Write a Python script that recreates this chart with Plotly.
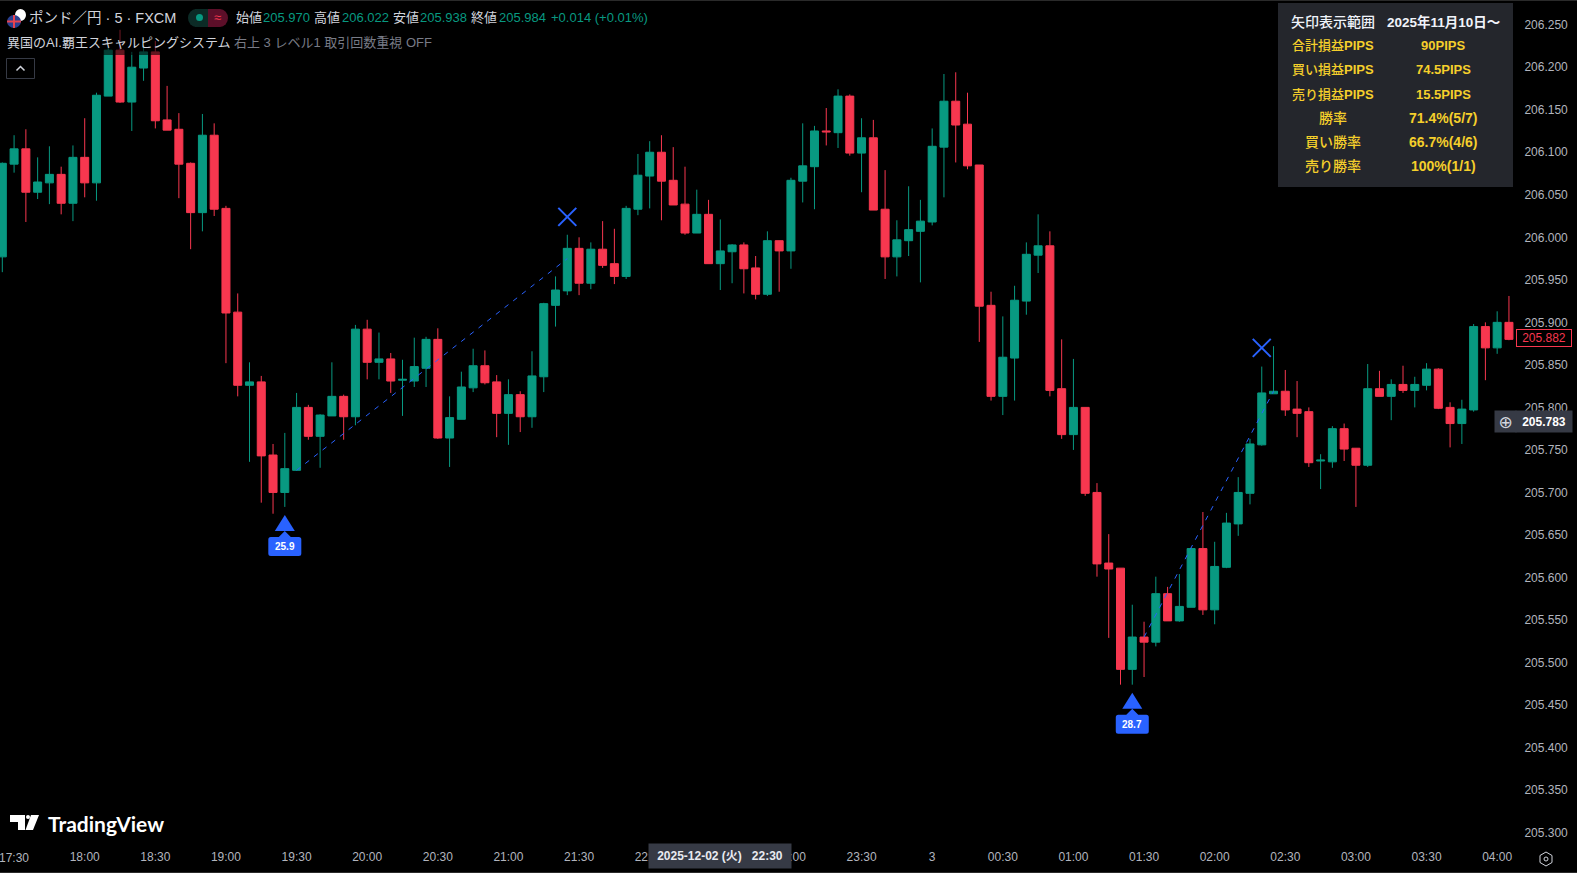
import pandas as pd
import plotly.graph_objects as go

WIDTH = 1577
HEIGHT = 873
PLOT_W = 1516
PLOT_H = 841

GREEN = "#089981"
RED = "#f7374f"
BLUE = "#2962ff"
AXIS_TEXT = "#b2b5be"
TABLE_TEXT = "#f5cf2b"
FONT = "Liberation Sans, Noto Sans CJK JP, sans-serif"

bar_times = pd.date_range("2025-12-02 17:25", periods=129, freq="5min")

opens = [205.977,206.086,206.104,206.053,206.064,206.074,206.040,206.094,206.064,206.166,
         206.220,206.159,206.199,206.218,206.138,206.127,206.087,206.029,206.120,206.034,
         205.912,205.826,205.830,205.744,205.700,205.726,205.800,205.766,205.790,205.813,
         205.789,205.892,205.853,205.857,205.832,205.831,205.846,205.880,205.764,205.786,
         205.823,205.849,205.830,205.793,205.815,205.789,205.836,205.920,205.937,205.987,
         205.946,205.986,205.969,205.954,206.033,206.072,206.100,206.067,206.039,206.005,
         206.027,205.969,205.983,205.991,205.964,205.933,205.996,205.984,206.066,206.083,
         206.125,206.123,206.166,206.099,206.117,206.033,205.977,205.996,206.007,206.018,
         206.106,206.160,206.133,206.085,205.920,205.813,205.858,205.925,205.979,205.990,
         205.822,205.768,205.800,205.700,205.617,205.611,205.492,205.530,205.524,205.581,
         205.549,205.565,205.634,205.562,205.612,205.663,205.699,205.756,205.816,205.819,
         205.798,205.795,205.737,205.736,205.775,205.752,205.732,205.822,205.813,205.827,
         205.820,205.826,205.845,205.800,205.781,205.797,205.895,205.870,205.900]
highs = [206.088,206.120,206.127,206.094,206.107,206.083,206.108,206.140,206.170,206.223,
         206.244,206.218,206.226,206.231,206.178,206.146,206.088,206.145,206.134,206.037,
         205.934,205.853,205.837,205.757,205.770,205.817,205.803,205.792,205.853,205.815,
         205.897,205.903,205.888,205.864,205.856,205.882,205.883,205.893,205.813,205.842,
         205.869,205.867,205.838,205.833,205.819,205.866,205.923,205.954,206.003,206.000,
         205.994,206.019,206.010,206.037,206.098,206.113,206.120,206.106,206.083,206.056,
         206.044,206.021,205.992,205.994,205.978,206.007,205.996,206.070,206.134,206.131,
         206.152,206.174,206.168,206.140,206.138,206.079,206.020,206.060,206.044,206.128,
         206.192,206.194,206.170,206.085,205.936,205.907,205.943,205.994,206.027,206.007,
         205.880,205.857,205.800,205.711,205.651,205.611,205.568,205.548,205.601,205.589,
         205.604,205.635,205.677,205.642,205.676,205.718,205.763,205.848,205.872,205.844,
         205.831,205.800,205.745,205.778,205.781,205.752,205.851,205.843,205.833,205.849,
         205.836,205.852,205.846,205.806,205.809,205.898,205.900,205.913,205.931]
lows = [205.959,206.076,206.018,206.045,206.039,206.027,206.019,206.047,206.043,206.166,
        206.158,206.125,206.184,206.128,206.126,206.046,205.986,206.007,206.025,205.852,
        205.813,205.736,205.688,205.675,205.683,205.726,205.762,205.729,205.790,205.762,
        205.779,205.833,205.833,205.817,205.790,205.824,205.824,205.763,205.730,205.786,
        205.818,205.827,205.765,205.756,205.771,205.776,205.818,205.895,205.932,205.932,
        205.939,205.964,205.945,205.951,206.026,206.034,206.020,206.038,206.003,206.005,
        205.969,205.938,205.946,205.934,205.927,205.931,205.936,205.963,206.041,206.033,
        206.108,206.105,206.096,206.053,206.032,205.951,205.954,205.978,205.947,206.014,
        206.047,206.088,206.080,205.877,205.808,205.791,205.808,205.909,205.958,205.813,
        205.763,205.750,205.696,205.601,205.529,205.474,205.474,205.483,205.519,205.549,
        205.548,205.565,205.556,205.545,205.611,205.649,205.686,205.755,205.816,205.790,
        205.765,205.730,205.704,205.729,205.737,205.683,205.730,205.813,205.785,205.817,
        205.800,205.820,205.798,205.753,205.757,205.795,205.832,205.863,205.879]
closes = [206.087,206.104,206.053,206.065,206.074,206.040,206.094,206.064,206.167,206.220,
          206.159,206.200,206.218,206.137,206.126,206.086,206.029,206.120,206.033,205.911,
          205.826,205.830,205.743,205.700,205.728,205.800,205.766,205.791,205.813,205.789,
          205.892,205.853,205.857,205.831,205.833,205.848,205.880,205.764,205.788,205.824,
          205.849,205.829,205.793,205.815,205.789,205.837,205.922,205.938,205.987,205.946,
          205.986,205.967,205.954,206.034,206.073,206.100,206.066,206.038,206.005,206.027,
          205.969,205.984,205.991,205.963,205.933,205.996,205.984,206.067,206.084,206.125,
          206.124,206.166,206.099,206.117,206.032,205.977,205.997,206.009,206.019,206.107,
          206.160,206.132,206.084,205.919,205.813,205.859,205.926,205.980,205.990,205.820,
          205.768,205.800,205.699,205.616,205.610,205.492,205.530,205.524,205.581,205.549,
          205.566,205.634,205.562,205.613,205.664,205.700,205.757,205.817,205.819,205.797,
          205.793,205.735,205.738,205.775,205.751,205.732,205.822,205.813,205.827,205.820,
          205.827,205.845,205.799,205.781,205.798,205.895,205.870,205.900,205.880]

# buy arrows, exit crosses and the dashed trade lines
buy_times = ["2025-12-02 19:25", "2025-12-03 01:25"]
buy_lows = [205.683, 205.474]
buy_labels = ["25.9", "28.7"]
exit_times = ["2025-12-02 21:25", "2025-12-03 02:20"]
exit_prices = [206.024, 205.870]
trade1_times = ["2025-12-02 19:30", "2025-12-02 21:25"]
trade1_prices = [205.726, 205.975]
trade2_times = ["2025-12-03 01:30", "2025-12-03 02:25"]
trade2_prices = [205.530, 205.819]

x_tick_times = pd.date_range("2025-12-02 18:00", "2025-12-03 04:00", freq="30min")
x_tick_text = ["18:00", "18:30", "19:00", "19:30", "20:00", "20:30", "21:00", "21:30",
               "22:00", "22:30", "23:00", "23:30", "3", "00:30", "01:00", "01:30", "02:00",
               "02:30", "03:00", "03:30", "04:00"]

table_labels = ["合計損益PIPS", "買い損益PIPS", "売り損益PIPS", "勝率", "買い勝率", "売り勝率"]
table_sizes = [13, 13, 13, 14, 14, 14]
table_values = ["90PIPS", "74.5PIPS", "15.5PIPS", "71.4%(5/7)", "66.7%(4/6)", "100%(1/1)"]
table_rows_y = [46, 70, 94, 118, 142, 166]


def px(x):
    return x / PLOT_W


def py(y):
    return 1 - y / PLOT_H


def path(points, close=True):
    d = "M" + " L".join(f"{px(x):.5f},{py(y):.5f}" for x, y in points)
    return d + (" Z" if close else "")


fig = go.Figure()

fig.add_trace(go.Scatter(x=trade1_times, y=trade1_prices, mode="lines",
                         line=dict(color=BLUE, width=1, dash="5px,6px"), hoverinfo="skip"))
fig.add_trace(go.Scatter(x=trade2_times, y=trade2_prices, mode="lines",
                         line=dict(color=BLUE, width=1, dash="5px,6px"), hoverinfo="skip"))
fig.add_trace(go.Candlestick(x=bar_times, open=opens, high=highs, low=lows, close=closes,
                             whiskerwidth=0,
                             increasing=dict(line=dict(color=GREEN, width=1), fillcolor=GREEN),
                             decreasing=dict(line=dict(color=RED, width=1), fillcolor=RED)))
fig.add_trace(go.Scatter(x=exit_times, y=exit_prices, mode="markers",
                         marker=dict(symbol="x-thin", size=18, line=dict(color=BLUE, width=2)),
                         hoverinfo="skip"))

shapes = []
annotations = []


def add_text(x, y, text, color="#d1d4dc", size=13, anchor="left", family=FONT, weight="normal"):
    if anchor == "left":
        x -= 1.5
    annotations.append(dict(xref="paper", yref="paper", x=px(x), y=py(y), text=text,
                            showarrow=False, xanchor=anchor, yanchor="middle", borderpad=0,
                            font=dict(color=color, size=size, family=family, weight=weight)))


def add_shape(kind, x0, y0, x1, y1, fill, line=None, width=0, opacity=1):
    shapes.append(dict(type=kind, xref="paper", yref="paper", x0=px(x0), x1=px(x1),
                       y0=py(y0), y1=py(y1), fillcolor=fill, opacity=opacity,
                       line=dict(color=line, width=width) if line else dict(width=0)))


def add_path(points, fill=None, line=None, width=1, close=True):
    shapes.append(dict(type="path", path=path(points, close), xref="paper", yref="paper",
                       fillcolor=fill, line=dict(color=line, width=width) if line else dict(width=0)))


# top/bottom hairlines
add_shape("rect", 0, 0, WIDTH, 1, "#2a2a2a")
add_shape("rect", 0, 872, WIDTH, 873, "#2a2a2a")

# legend dims what sits under it
add_shape("rect", 0, 28, 440, 50, "#000000", opacity=0.55)
add_shape("rect", 0, 50, 440, 55, "#000000", opacity=0.6)

# arrows hang below the bar low, sized in pixels
for t, low, label in zip(buy_times, buy_lows, buy_labels):
    shapes.append(dict(type="path", xref="x", yref="y", xsizemode="pixel", ysizemode="pixel",
                       xanchor=t, yanchor=low, fillcolor=BLUE, line=dict(width=0),
                       path="M -10,-24 L 0,-8 L 10,-24 Z"))
    shapes.append(dict(type="path", xref="x", yref="y", xsizemode="pixel", ysizemode="pixel",
                       xanchor=t, yanchor=low, fillcolor=BLUE, line=dict(width=0),
                       path="M -14,-30 L -6,-30 L 0,-24 L 6,-30 L 14,-30 Q 16.5,-30 16.5,-32.5 "
                            "L 16.5,-46.5 Q 16.5,-49 14,-49 L -14,-49 Q -16.5,-49 -16.5,-46.5 "
                            "L -16.5,-32.5 Q -16.5,-30 -14,-30 Z"))
    annotations.append(dict(xref="x", yref="y", x=t, y=low, yshift=-39.5, text=label,
                            showarrow=False, borderpad=0, xanchor="center", yanchor="middle",
                            font=dict(color="#ffffff", size=10, family=FONT, weight="bold")))

# stats table
add_shape("rect", 1278, 3, 1513, 187, "#24262c")
add_text(1332.5, 22, "矢印表示範囲", color="#f0f3fa", size=14, anchor="center", weight=500)
add_text(1443, 22, "2025年11月10日～", color="#f0f3fa", size=13.5, anchor="center", weight=700)
for label, size, value, row_y in zip(table_labels, table_sizes, table_values, table_rows_y):
    add_text(1332.5, row_y, label.replace("PIPS", "<b>PIPS</b>"), color=TABLE_TEXT, size=size,
             anchor="center", weight=500)
    add_text(1443, row_y, value, color=TABLE_TEXT, size=size, anchor="center", weight=700)

# header legend
add_shape("circle", 15, 9, 26, 21, "#ffffff")
add_shape("circle", 7, 15, 21, 28, "#2a3f8f")
add_path([(7, 21.5), (21, 21.5)], line="#e8434f", width=2, close=False)
add_path([(14, 15), (14, 28)], line="#e8434f", width=2, close=False)
add_text(29.5, 18, "ポンド／円 · 5 · FXCM", color="#d1d4dc", size=14.5)
add_shape("rect", 195, 9, 208, 27, "#0c2b26")
add_shape("circle", 188, 9, 204, 27, "#0c2b26")
add_shape("rect", 208, 9, 220, 27, "#5c0f29")
add_shape("circle", 212, 9, 228, 27, "#5c0f29")
add_shape("circle", 196, 14, 203, 21, GREEN)
add_text(217, 18, "≈", color="#f7374f", size=13, anchor="center")
for x, label in [(236, "始値"), (314, "高値"), (393.5, "安値"), (472, "終値")]:
    add_text(x, 18, label, color="#d1d4dc", size=13)
for x, value in [(263, "205.970"), (342, "206.022"), (420, "205.938"), (499, "205.984")]:
    add_text(x, 18, value, color=GREEN, size=13)
add_text(551, 18, "+0.014 (+0.01%)", color=GREEN, size=13)
add_text(7.5, 43, "異国のAI.覇王スキャルピングシステム", color="#d1d4dc", size=13)
add_text(234, 43, "右上 3 レベル1 取引回数重視 OFF", color="#787b86", size=13)

# collapse button
shapes.append(dict(type="rect", xref="paper", yref="paper", x0=px(6.5), x1=px(34.5), y0=py(58.5), y1=py(78.5),
                   line=dict(color="#363a45", width=1), fillcolor="#000000"))
add_path([(16.5, 70.5), (20.5, 66.5), (24.5, 70.5)], line="#d1d4dc", width=1.5, close=False)

# TradingView mark
add_path([(10, 815), (25, 815), (25, 830), (18, 830), (18, 822), (10, 822)], fill="#ffffff")
add_shape("circle", 26, 815, 30, 819, "#ffffff")
add_path([(31, 815), (39, 815), (33, 830), (25.5, 830)], fill="#ffffff")
add_text(48, 823, "TradingView", color="#ffffff", size=21, family="Lato, sans-serif", weight=700)

# settings icon
add_path([(1546, 852), (1552, 855.5), (1552, 862.5), (1546, 866), (1540, 862.5), (1540, 855.5)],
         line="#d1d4dc", width=1)
shapes.append(dict(type="circle", xref="paper", yref="paper", x0=px(1544), x1=px(1548), y0=py(857), y1=py(861),
                   line=dict(color="#d1d4dc", width=1), fillcolor="rgba(0,0,0,0)"))

# the 17:30 tick sits half over the left edge, plotly would drop it
annotations.append(dict(xref="x", yref="paper", x="2025-12-02 17:30", y=py(858), text="17:30",
                        showarrow=False, xanchor="center", yanchor="middle", borderpad=0,
                        font=dict(color=AXIS_TEXT, size=12, family=FONT)))

# price labels on the axis
annotations.append(dict(xref="paper", yref="y", x=px(1544), y=205.882, text="205.882", showarrow=False,
                        xanchor="center", yanchor="middle", width=54, height=16, borderpad=0,
                        bgcolor="#000000", bordercolor=RED, borderwidth=1,
                        font=dict(color=RED, size=12, family=FONT)))
annotations.append(dict(xref="paper", yref="y", x=px(1544), y=205.783, text="<b>205.783</b>", showarrow=False,
                        xanchor="center", yanchor="middle", width=56, height=21, borderpad=0, bgcolor="#363a45",
                        font=dict(color="#ffffff", size=12, family=FONT)))
annotations.append(dict(xref="paper", yref="y", x=px(1505), y=205.783, text="⊕", showarrow=False,
                        xanchor="center", yanchor="middle", width=21, height=21, borderpad=0, bgcolor="#363a45",
                        font=dict(color="#d1d4dc", size=17, family="DejaVu Sans")))

# crosshair date label
annotations.append(dict(xref="x", yref="paper", x="2025-12-02 22:30", y=py(856), text="<b>2025-12-02 (火)   22:30</b>",
                        showarrow=False, xanchor="center", yanchor="middle", width=142, height=24,
                        borderpad=0, bgcolor="#363a45",
                        font=dict(color="#e8eaf0", size=12, family=FONT)))

fig.update_layout(
    width=WIDTH,
    height=HEIGHT,
    margin=dict(l=0, r=WIDTH - PLOT_W, t=0, b=HEIGHT - PLOT_H),
    paper_bgcolor="#000000",
    plot_bgcolor="#000000",
    showlegend=False,
    boxgap=0.32,
    boxgroupgap=0,
    shapes=shapes,
    annotations=annotations,
    font=dict(family=FONT),
    xaxis=dict(
        rangeslider_visible=False,
        range=["2025-12-02 17:24:01", "2025-12-03 04:08:00"],
        tickmode="array",
        tickvals=x_tick_times,
        ticktext=x_tick_text,
        tickangle=0,
        showgrid=False,
        zeroline=False,
        ticks="outside",
        ticklen=5,
        tickcolor="rgba(0,0,0,0)",
        tickfont=dict(color=AXIS_TEXT, size=12, family=FONT),
    ),
    yaxis=dict(
        side="right",
        range=[205.2902, 206.2790],
        tick0=205.3,
        dtick=0.05,
        tickformat=".3f",
        showgrid=False,
        zeroline=False,
        ticks="outside",
        ticklen=5,
        tickcolor="rgba(0,0,0,0)",
        tickfont=dict(color=AXIS_TEXT, size=12, family=FONT),
    ),
)

fig.write_html("out.html", config={"displayModeBar": False},
               post_script="document.body.style.margin='0';")
